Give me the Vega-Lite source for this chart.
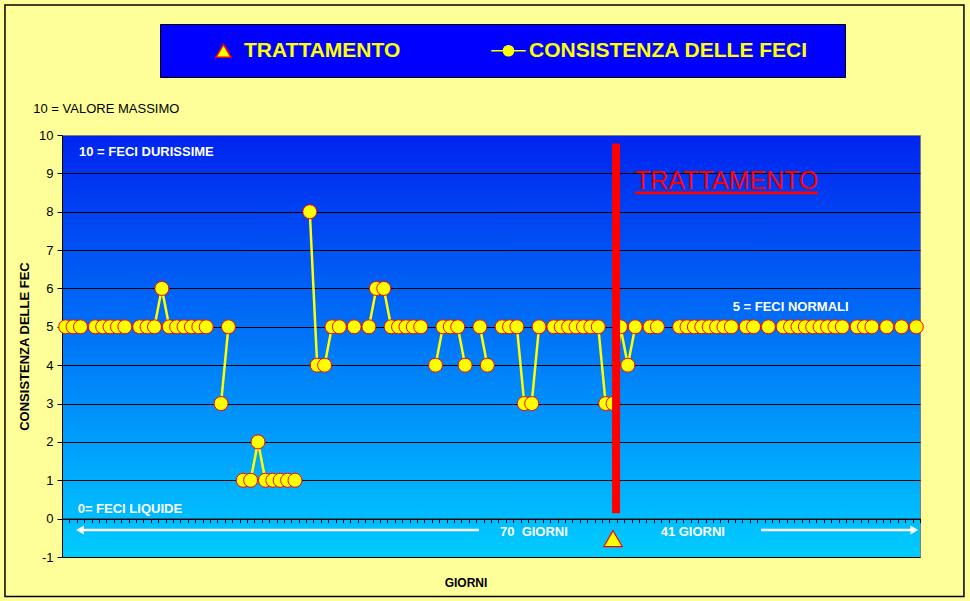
{
  "$schema": "https://vega.github.io/schema/vega-lite/v6.json",
  "width": 858,
  "height": 422,
  "autosize": {"type": "none"},
  "padding": {"left": 62, "top": 135, "right": 50, "bottom": 44},
  "background": "#FFFF99",
  "view": {
    "stroke": "#808080",
    "strokeWidth": 1,
    "fill": {"gradient": "linear", "x1": 0, "y1": 0, "x2": 0, "y2": 1, "stops": [{"offset": 0, "color": "#0024F0"}, {"offset": 1, "color": "#00CCFF"}]}
  },
  "config": {
    "font": "Liberation Sans",
    "legend": {
      "titleOrient": "right", "titlePadding": 21, "titleFontSize": 10,
      "orient": "none", "legendX": 98, "legendY": -111,
      "direction": "horizontal",
      "fillColor": "#0000FF", "strokeColor": "#000000", "padding": 16,
      "labelColor": "#FFFF00", "labelFont": "Liberation Sans", "labelFontSize": 21, "labelFontWeight": "bold", "labelLimit": 0,
      "symbolSize": 225, "symbolOffset": 37, "labelOffset": 10, "columnPadding": 60,
      "symbolOpacity": 1, "symbolFillColor": "#FFFF00"
    }
  },
  "datasets": {
    "feci": [
      {"giorno": 0, "valore": 5}, {"giorno": 1, "valore": 5}, {"giorno": 2, "valore": 5}, {"giorno": 3, "valore": null}, {"giorno": 4, "valore": 5},
      {"giorno": 5, "valore": 5}, {"giorno": 6, "valore": 5}, {"giorno": 7, "valore": 5}, {"giorno": 8, "valore": 5}, {"giorno": 9, "valore": null},
      {"giorno": 10, "valore": 5}, {"giorno": 11, "valore": 5}, {"giorno": 12, "valore": 5}, {"giorno": 13, "valore": 6}, {"giorno": 14, "valore": 5},
      {"giorno": 15, "valore": 5}, {"giorno": 16, "valore": 5}, {"giorno": 17, "valore": 5}, {"giorno": 18, "valore": 5}, {"giorno": 19, "valore": 5},
      {"giorno": 20, "valore": null}, {"giorno": 21, "valore": 3}, {"giorno": 22, "valore": 5}, {"giorno": 23, "valore": null}, {"giorno": 24, "valore": 1},
      {"giorno": 25, "valore": 1}, {"giorno": 26, "valore": 2}, {"giorno": 27, "valore": 1}, {"giorno": 28, "valore": 1}, {"giorno": 29, "valore": 1},
      {"giorno": 30, "valore": 1}, {"giorno": 31, "valore": 1}, {"giorno": 32, "valore": null}, {"giorno": 33, "valore": 8}, {"giorno": 34, "valore": 4},
      {"giorno": 35, "valore": 4}, {"giorno": 36, "valore": 5}, {"giorno": 37, "valore": 5}, {"giorno": 38, "valore": null}, {"giorno": 39, "valore": 5},
      {"giorno": 40, "valore": null}, {"giorno": 41, "valore": 5}, {"giorno": 42, "valore": 6}, {"giorno": 43, "valore": 6}, {"giorno": 44, "valore": 5},
      {"giorno": 45, "valore": 5}, {"giorno": 46, "valore": 5}, {"giorno": 47, "valore": 5}, {"giorno": 48, "valore": 5}, {"giorno": 49, "valore": null},
      {"giorno": 50, "valore": 4}, {"giorno": 51, "valore": 5}, {"giorno": 52, "valore": 5}, {"giorno": 53, "valore": 5}, {"giorno": 54, "valore": 4},
      {"giorno": 55, "valore": null}, {"giorno": 56, "valore": 5}, {"giorno": 57, "valore": 4}, {"giorno": 58, "valore": null}, {"giorno": 59, "valore": 5},
      {"giorno": 60, "valore": 5}, {"giorno": 61, "valore": 5}, {"giorno": 62, "valore": 3}, {"giorno": 63, "valore": 3}, {"giorno": 64, "valore": 5},
      {"giorno": 65, "valore": null}, {"giorno": 66, "valore": 5}, {"giorno": 67, "valore": 5}, {"giorno": 68, "valore": 5}, {"giorno": 69, "valore": 5},
      {"giorno": 70, "valore": 5}, {"giorno": 71, "valore": 5}, {"giorno": 72, "valore": 5}, {"giorno": 73, "valore": 3}, {"giorno": 74, "valore": 3},
      {"giorno": 75, "valore": 5}, {"giorno": 76, "valore": 4}, {"giorno": 77, "valore": 5}, {"giorno": 78, "valore": null}, {"giorno": 79, "valore": 5},
      {"giorno": 80, "valore": 5}, {"giorno": 81, "valore": null}, {"giorno": 82, "valore": null}, {"giorno": 83, "valore": 5}, {"giorno": 84, "valore": 5},
      {"giorno": 85, "valore": 5}, {"giorno": 86, "valore": 5}, {"giorno": 87, "valore": 5}, {"giorno": 88, "valore": 5}, {"giorno": 89, "valore": 5},
      {"giorno": 90, "valore": 5}, {"giorno": 91, "valore": null}, {"giorno": 92, "valore": 5}, {"giorno": 93, "valore": 5}, {"giorno": 94, "valore": null},
      {"giorno": 95, "valore": 5}, {"giorno": 96, "valore": null}, {"giorno": 97, "valore": 5}, {"giorno": 98, "valore": 5}, {"giorno": 99, "valore": 5},
      {"giorno": 100, "valore": 5}, {"giorno": 101, "valore": 5}, {"giorno": 102, "valore": 5}, {"giorno": 103, "valore": 5}, {"giorno": 104, "valore": 5},
      {"giorno": 105, "valore": 5}, {"giorno": 106, "valore": null}, {"giorno": 107, "valore": 5}, {"giorno": 108, "valore": 5}, {"giorno": 109, "valore": 5},
      {"giorno": 110, "valore": null}, {"giorno": 111, "valore": 5}, {"giorno": 112, "valore": null}, {"giorno": 113, "valore": 5}, {"giorno": 114, "valore": null},
      {"giorno": 115, "valore": 5}
    ],
    "trattamento": [{"giorno": 74, "evento": "TRATTAMENTO"}],
    "nota": [{}]
  },
  "layer": [
    {
      "data": {"name": "feci"},
      "mark": {"type": "line", "color": "#FFFF00", "strokeWidth": 2.5, "invalid": "break-paths-filter-domains"},
      "encoding": {
        "x": {
          "field": "giorno", "type": "quantitative",
          "scale": {"domain": [-0.5, 115.5], "nice": false, "zero": false},
          "axis": {
            "offset": -38.4,
            "tickCount": 500,
            "values": [-0.5, 0.5, 1.5, 2.5, 3.5, 4.5, 5.5, 6.5, 7.5, 8.5, 9.5, 10.5, 11.5, 12.5, 13.5, 14.5, 15.5, 16.5, 17.5, 18.5, 19.5, 20.5, 21.5, 22.5, 23.5, 24.5, 25.5, 26.5, 27.5, 28.5, 29.5, 30.5, 31.5, 32.5, 33.5, 34.5, 35.5, 36.5, 37.5, 38.5, 39.5, 40.5, 41.5, 42.5, 43.5, 44.5, 45.5, 46.5, 47.5, 48.5, 49.5, 50.5, 51.5, 52.5, 53.5, 54.5, 55.5, 56.5, 57.5, 58.5, 59.5, 60.5, 61.5, 62.5, 63.5, 64.5, 65.5, 66.5, 67.5, 68.5, 69.5, 70.5, 71.5, 72.5, 73.5, 74.5, 75.5, 76.5, 77.5, 78.5, 79.5, 80.5, 81.5, 82.5, 83.5, 84.5, 85.5, 86.5, 87.5, 88.5, 89.5, 90.5, 91.5, 92.5, 93.5, 94.5, 95.5, 96.5, 97.5, 98.5, 99.5, 100.5, 101.5, 102.5, 103.5, 104.5, 105.5, 106.5, 107.5, 108.5, 109.5, 110.5, 111.5, 112.5, 113.5, 114.5, 115.5],
            "labels": false, "grid": false,
            "tickSize": 4, "tickColor": "#000000", "domainColor": "#000000", "domainWidth": 1,
            "title": "GIORNI", "titleFontSize": 12, "titleFontWeight": "bold", "titleColor": "#000000",
            "titleX": 403.5, "titleY": 68, "titleAlign": "center", "titleBaseline": "alphabetic"
          }
        },
        "y": {
          "field": "valore", "type": "quantitative",
          "scale": {"domain": [-1, 10], "nice": false, "zero": false},
          "axis": {
            "values": [-1, 0, 1, 2, 3, 4, 5, 6, 7, 8, 9, 10],
            "tickCount": 50,
            "labelOverlap": false,
            "labelExpr": "'' + datum.value",
            "grid": true,
            "gridColor": {"condition": {"test": "datum.value === 10", "value": "transparent"}, "value": "#000000"},
            "gridWidth": 1, "gridOpacity": 1,
            "tickSize": 5, "tickColor": "#000000", "domainColor": "#000000",
            "labelFontSize": 13, "labelColor": "#000000", "labelPadding": 4,
            "title": "CONSISTENZA DELLE FEC", "titleFontSize": 13, "titleFontWeight": "bold", "titleColor": "#000000",
            "titleAngle": -90, "titleX": -33.7, "titleY": 211, "titleAlign": "center", "titleBaseline": "alphabetic"
          }
        }
      }
    },
    {
      "data": {"name": "feci"},
      "mark": {"type": "point", "shape": "circle", "filled": true, "fill": "#FFFF00", "stroke": "#FF0000", "strokeWidth": 1, "size": 196, "opacity": 1},
      "encoding": {
        "x": {"field": "giorno", "type": "quantitative"},
        "y": {"field": "valore", "type": "quantitative"}
      }
    },
    {
      "data": {"name": "trattamento"},
      "mark": {"type": "point", "filled": true, "fill": "#FFFF00", "strokeWidth": 1.2, "size": 340, "opacity": 1},
      "encoding": {
        "x": {"field": "giorno", "type": "quantitative"},
        "y": {"datum": -0.52},
        "shape": {
          "datum": "TRATTAMENTO",
          "scale": {"domain": ["TRATTAMENTO", "CONSISTENZA DELLE FECI"], "range": ["triangle-up", "M-2.3,0L-0.72,0M0.72,0L2.3,0M0.68,0A0.68,0.68,0,1,1,-0.68,0A0.68,0.68,0,1,1,0.68,0Z"]},
          "legend": {"title": "\u00a0"}
        },
        "stroke": {
          "datum": "TRATTAMENTO",
          "scale": {"domain": ["TRATTAMENTO", "CONSISTENZA DELLE FECI"], "range": ["#FF0000", "#FFFF00"]},
          "legend": {"title": "\u00a0"}
        }
      }
    },
    {
      "data": {"name": "trattamento"},
      "mark": {"type": "point", "filled": true, "fill": "#FFFF00", "strokeWidth": 1.5, "size": 225, "opacity": 1},
      "encoding": {
        "x": {"datum": -60},
        "y": {"datum": 5},
        "shape": {"datum": "CONSISTENZA DELLE FECI", "legend": {"title": "\u00a0"}},
        "stroke": {"datum": "CONSISTENZA DELLE FECI", "legend": {"title": "\u00a0"}}
      }
    },
    {
      "data": {"name": "trattamento"},
      "mark": {"type": "rule", "color": "#FF0000", "strokeWidth": 8, "xOffset": 3},
      "encoding": {
        "x": {"field": "giorno", "type": "quantitative"},
        "y": {"datum": 0.14},
        "y2": {"datum": 9.78}
      }
    },
    {
      "data": {"name": "nota"},
      "mark": {"type": "text", "text": "10 = FECI DURISSIME", "color": "#FFFFFF", "fontSize": 13, "fontWeight": "bold", "align": "left", "baseline": "alphabetic"},
      "encoding": {"x": {"datum": 1.8}, "y": {"datum": 9.45}}
    },
    {
      "data": {"name": "nota"},
      "mark": {"type": "text", "text": "5 = FECI NORMALI", "color": "#FFFFFF", "fontSize": 13, "fontWeight": "bold", "align": "left", "baseline": "alphabetic"},
      "encoding": {"x": {"datum": 90.17}, "y": {"datum": 5.41}}
    },
    {
      "data": {"name": "nota"},
      "mark": {"type": "text", "text": "0= FECI LIQUIDE", "color": "#FFFFFF", "fontSize": 13, "fontWeight": "bold", "align": "left", "baseline": "alphabetic"},
      "encoding": {"x": {"datum": 1.62}, "y": {"datum": 0.154}}
    },
    {
      "data": {"name": "nota"},
      "mark": {"type": "text", "text": "70\u00a0 GIORNI", "color": "#FFFFFF", "fontSize": 13, "fontWeight": "bold", "align": "left", "baseline": "alphabetic"},
      "encoding": {"x": {"datum": 58.71}, "y": {"datum": -0.454}}
    },
    {
      "data": {"name": "nota"},
      "mark": {"type": "text", "text": "41 GIORNI", "color": "#FFFFFF", "fontSize": 13, "fontWeight": "bold", "align": "left", "baseline": "alphabetic"},
      "encoding": {"x": {"datum": 80.44}, "y": {"datum": -0.454}}
    },
    {
      "data": {"name": "nota"},
      "mark": {"type": "rule", "color": "#FFFFFF", "strokeWidth": 2.5},
      "encoding": {"x": {"datum": 1.93}, "x2": {"datum": 55.87}, "y": {"datum": -0.297}}
    },
    {
      "data": {"name": "nota"},
      "mark": {"type": "rule", "color": "#FFFFFF", "strokeWidth": 2.5},
      "encoding": {"x": {"datum": 94.0}, "x2": {"datum": 114.73}, "y": {"datum": -0.297}}
    },
    {
      "data": {"name": "nota"},
      "mark": {"type": "point", "shape": "triangle-left", "filled": true, "color": "#FFFFFF", "size": 81, "opacity": 1},
      "encoding": {"x": {"datum": 1.93}, "y": {"datum": -0.297}}
    },
    {
      "data": {"name": "nota"},
      "mark": {"type": "point", "shape": "triangle-right", "filled": true, "color": "#FFFFFF", "size": 81, "opacity": 1},
      "encoding": {"x": {"datum": 114.73}, "y": {"datum": -0.297}}
    },
    {
      "data": {"name": "nota"},
      "mark": {"type": "text", "text": "TRATTAMENTO", "color": "#FF0000", "fontSize": 25, "fontWeight": "normal", "align": "left", "baseline": "alphabetic"},
      "encoding": {"x": {"datum": 76.96}, "y": {"datum": 8.58}}
    },
    {
      "data": {"name": "nota"},
      "mark": {"type": "rule", "color": "#FF0000", "strokeWidth": 2.7},
      "encoding": {"x": {"datum": 76.96}, "x2": {"datum": 101.7}, "y": {"datum": 8.49}}
    },
    {
      "data": {"name": "nota"},
      "mark": {"type": "text", "text": "10 = VALORE MASSIMO", "color": "#000000", "fontSize": 13, "fontWeight": "normal", "align": "left", "baseline": "alphabetic"},
      "encoding": {"x": {"datum": -4.38}, "y": {"datum": 10.58}}
    },
    {
      "data": {"name": "nota"},
      "mark": {"type": "rect", "filled": false, "stroke": "#000000", "strokeWidth": 1.5},
      "encoding": {"x": {"datum": -8.21}, "x2": {"datum": 121.44}, "y": {"datum": 13.39}, "y2": {"datum": -2.03}}
    }
  ]
}
